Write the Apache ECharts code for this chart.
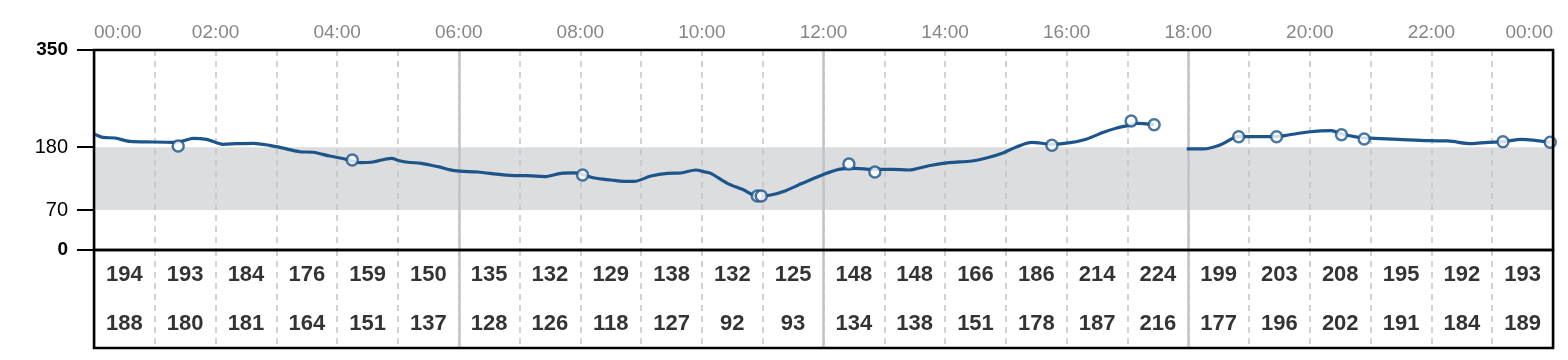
<!DOCTYPE html>
<html>
<head>
<meta charset="utf-8">
<script src="https://cdn.jsdelivr.net/npm/echarts@6/dist/echarts.min.js"></script>
<style>
html,body{margin:0;padding:0;background:#fff;}
#chart{width:1568px;height:360px;}
</style>
</head>
<body>
<div id="chart"></div>
<script>
// Glucose trace: [hour, mg/dL]
var traceA = [
  [0,203],[0.153,197],[0.345,196],[0.591,190],[0.974,189],[1.303,188.5],[1.467,191],[1.631,195.5],[1.851,193.7],
  [2.124,185],[2.344,186],[2.617,186.7],[2.891,183],[3.165,177],[3.384,172],[3.602,171],[3.877,164.5],[4.151,158.7],
  [4.369,153],[4.588,154],[4.890,160.5],[5.026,156.3],[5.163,153.5],[5.383,151.7],[5.656,145.8],[5.930,138.8],
  [6.313,136.5],[6.697,131.8],[6.970,130],[7.134,130],[7.408,128.3],[7.682,134.2],[7.901,134.8],[8.230,126],
  [8.504,122.5],[8.722,120.2],[8.886,120.2],[9.161,129.5],[9.433,134.2],[9.653,134.8],[9.900,140],[10.036,137],
  [10.146,134.2],[10.419,116.7],[10.665,106.2],[10.93,94],[11.132,96.2],[11.378,103.8],[11.651,116.7],[11.979,131.3],
  [12.254,141.2],[12.528,143],[12.801,141.2],[13.129,141.2],[13.403,140],[13.732,147.5],[14.060,152.8],[14.443,155.8],
  [14.663,160.5],[14.964,170.3],[15.182,180.8],[15.429,188.5],[15.757,185],[16.059,187.8],[16.332,194.3],[16.606,206],
  [16.825,213.5],[17.061,219],[17.153,221.7],[17.439,219.3]
];
var traceB = [
  [17.975,176.8],[18.249,176.8],[18.523,183.8],[18.829,198.3],[19.125,198.3],[19.453,198.3],[19.645,201.3],
  [19.974,206.5],[20.357,208.8],[20.521,203],[20.894,196],[21.069,195.5],[21.452,193.7],[21.945,191.3],[22.274,190.8],
  [22.656,186],[22.930,188.5],[23.177,189.5],[23.478,193.7],[23.954,188.5]
];
// Fingerstick readings: [hour, mg/dL]
var readings = [
  [1.385,182],[4.249,157.5],[8.037,131.3],[10.912,94.5],[10.977,94.5],[12.418,150.5],[12.845,136.5],
  [15.757,183.2],[17.061,225.8],[17.439,219.3],[18.829,198.3],[19.453,198.3],[20.521,201.8],[20.894,194.3],
  [23.177,189.5],[23.954,188.5]
];
// Hourly table rows
var hourMax = [194,193,184,176,159,150,135,132,129,138,132,125,148,148,166,186,214,224,199,203,208,195,192,193];
var hourMin = [188,180,181,164,151,137,128,126,118,127,92,93,134,138,151,178,187,216,177,196,202,191,184,189];
// Axis ticks
var yTicks = [0,70,180,350];
var rangeLow = 70, rangeHigh = 180;

var lineData = traceA.concat([[17.7,'-']]).concat(traceB);
var tableData = [];
for (var i = 0; i < hourMax.length; i++) {
  tableData.push([i + 0.5, 1.5, hourMax[i]]);
  tableData.push([i + 0.5, 0.5, hourMin[i]]);
}
function pad(n){ return (n < 10 ? '0' : '') + n; }

var FONT = 'Liberation Sans, Arial, sans-serif';
var dashStyle = {color:'#c3c3c3', width:1.5, type:[6,5]};
var solidStyle = {color:'#c3c3c3', width:2.5, type:'solid'};
var blue = '#1d558a';

var chart = echarts.init(document.getElementById('chart'));
chart.setOption({
  animation: false,
  backgroundColor: '#fff',
  grid: [
    {left:94, right:15, top:50, height:200, show:true, borderColor:'#000', borderWidth:2.5, backgroundColor:'transparent', z:10},
    {left:94, right:15, top:250, height:98, show:true, borderColor:'#000', borderWidth:2.5, backgroundColor:'transparent', z:10}
  ],
  xAxis: [
    {gridIndex:0, type:'value', min:0, max:24, interval:1, position:'top', z:2,
     axisLine:{show:false}, axisTick:{show:false},
     axisLabel:{show:true, margin:8, color:'#868686', fontSize:19, fontFamily:FONT,
       alignMinLabel:'left', alignMaxLabel:'right', showMinLabel:true, showMaxLabel:true,
       formatter:function(v){ v = Math.round(v); return v % 2 === 0 ? pad(v % 24) + ':00' : ''; }},
     splitLine:{show:true, lineStyle:dashStyle}},
    {gridIndex:0, type:'value', min:0, max:24, interval:6, position:'top', z:2,
     axisLine:{show:false}, axisTick:{show:false}, axisLabel:{show:false},
     splitLine:{show:true, lineStyle:solidStyle}},
    {gridIndex:1, type:'value', min:0, max:24, interval:1, z:2,
     axisLine:{show:false}, axisTick:{show:false}, axisLabel:{show:false},
     splitLine:{show:true, lineStyle:dashStyle}},
    {gridIndex:1, type:'value', min:0, max:24, interval:6, z:2,
     axisLine:{show:false}, axisTick:{show:false}, axisLabel:{show:false},
     splitLine:{show:true, lineStyle:solidStyle}}
  ],
  yAxis: [
    {gridIndex:0, type:'value', min:0, max:350, z:2,
     axisLine:{show:false},
     axisTick:{show:true, length:17, customValues:yTicks, lineStyle:{color:'#000', width:2}},
     axisLabel:{show:true, margin:26, customValues:yTicks,
       formatter:function(v){ return (v === 0 || v === 350) ? '{b|' + v + '}' : '{n|' + v + '}'; },
       rich:{
         b:{fontSize:19, fontWeight:'bold', color:'#000', fontFamily:FONT},
         n:{fontSize:20, color:'#000', fontFamily:FONT}
       }},
     splitLine:{show:false}},
    {gridIndex:1, type:'value', min:0, max:2, show:false}
  ],
  series: [
    {type:'line', xAxisIndex:0, yAxisIndex:0, data:[], z:1, silent:true,
     markArea:{silent:true, itemStyle:{color:'#dcdddf'}, data:[[{yAxis:rangeLow},{yAxis:rangeHigh}]]}},
    {type:'line', xAxisIndex:0, yAxisIndex:0, data:lineData, z:3, showSymbol:false, smooth:0.3,
     connectNulls:false, lineStyle:{color:blue, width:3.2}, silent:true},
    {type:'scatter', xAxisIndex:0, yAxisIndex:0, data:readings, z:4, symbol:'circle', symbolSize:11,
     itemStyle:{color:'#fff', borderColor:blue, borderWidth:2.5}, silent:true},
    {type:'scatter', xAxisIndex:2, yAxisIndex:1, data:tableData, z:4, symbolSize:1,
     itemStyle:{color:'rgba(0,0,0,0)'}, silent:true,
     label:{show:true, position:'inside', color:'#000', fontSize:22, fontWeight:'bold',
       fontFamily:FONT,
       formatter:function(p){ return String(p.value[2]); }}}
  ]
});
</script>
</body>
</html>
